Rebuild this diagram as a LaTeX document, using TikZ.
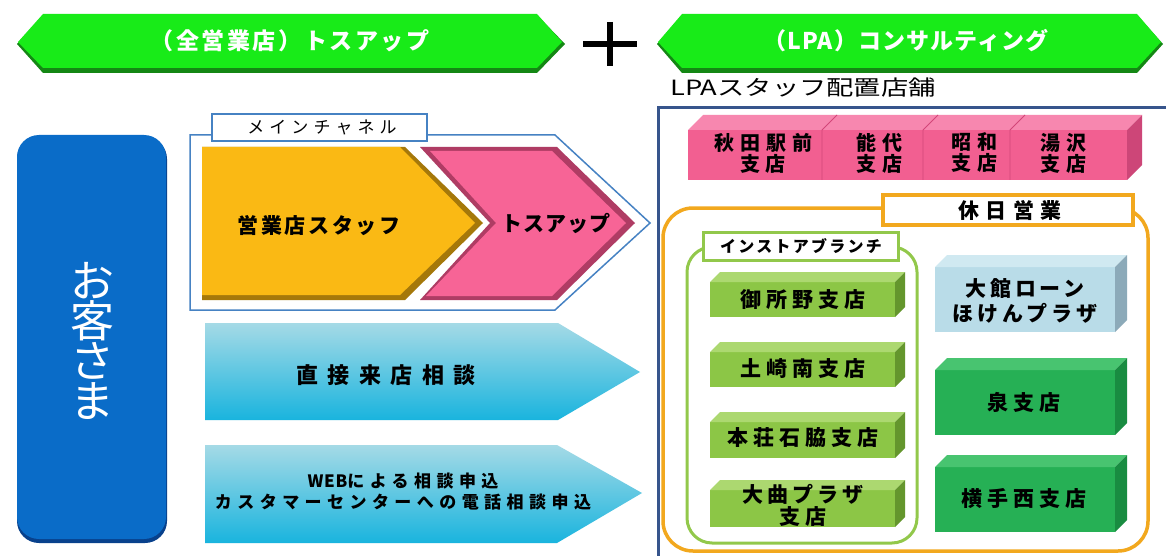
\documentclass[tikz,border=0pt]{standalone}
\usepackage{fontspec}
\setmainfont{Noto Sans CJK JP}
\newfontfamily\jp{Noto Sans CJK JP}
\newcommand\jfont[3]{\jp\fontsize{#1}{#2}\selectfont\addfontfeature{LetterSpace=#3}}
\newcommand\jbfont[3]{\jp\bfseries\fontsize{#1}{#2}\selectfont\addfontfeature{LetterSpace=#3}}
\definecolor{bannerG}{RGB}{24,235,24}
\definecolor{bannerD}{RGB}{20,135,20}
\definecolor{custB}{RGB}{10,108,200}
\definecolor{custBD}{RGB}{8,65,140}
\definecolor{frameB}{RGB}{70,130,195}
\definecolor{chevO}{RGB}{250,185,20}
\definecolor{chevOD}{RGB}{165,120,10}
\definecolor{chevP}{RGB}{247,100,150}
\definecolor{chevPD}{RGB}{175,60,100}
\definecolor{cyanT}{RGB}{165,218,230}
\definecolor{cyanM}{RGB}{55,200,232}
\definecolor{cyanB}{RGB}{25,180,222}
\definecolor{navyF}{RGB}{55,85,140}
\definecolor{pinkF}{RGB}{242,95,145}
\definecolor{pinkT}{RGB}{247,135,175}
\definecolor{pinkS}{RGB}{205,70,120}
\definecolor{pinkL}{RGB}{210,70,120}
\definecolor{orF}{RGB}{242,168,30}
\definecolor{lgF}{RGB}{146,200,75}
\definecolor{lgB}{RGB}{140,198,70}
\definecolor{lgT}{RGB}{172,216,112}
\definecolor{lgS}{RGB}{100,150,45}
\definecolor{lbB}{RGB}{185,220,232}
\definecolor{lbT}{RGB}{208,233,241}
\definecolor{lbS}{RGB}{140,170,185}
\definecolor{dgB}{RGB}{38,176,85}
\definecolor{dgT}{RGB}{72,196,112}
\definecolor{dgS}{RGB}{25,140,65}
\newcommand\cubebox[8]{%
  \fill[#6] (#1,#2) rectangle (#3,#4);
  \fill[#7] (#1,#2) -- ({#1+#5},{#2-#5}) -- ({#3+#5},{#2-#5}) -- (#3,#2) -- cycle;
  \fill[#8] (#3,#2) -- ({#3+#5},{#2-#5}) -- ({#3+#5},{#4-#5}) -- (#3,#4) -- cycle;
}
\tikzset{
  txt/.style={inner sep=0pt, align=center, text=black},
  wtxt/.style={inner sep=0pt, align=center, text=white},
}
\begin{document}
\begin{tikzpicture}[x=1pt,y=-1pt]
\useasboundingbox (0,0) rectangle (1166,556);
\fill[white] (0,0) rectangle (1166,556);

% ---- top banners ----
\fill[bannerD] (17,44) -- (43,15) -- (537,15) -- (565,44) -- (537,73) -- (43,73) -- cycle;
\fill[bannerG] (18,42) -- (43,14) -- (537,14) -- (562,42) -- (537,68) -- (43,68) -- cycle;
\node[wtxt, font=\jbfont{23}{25}{11}] (banL) at (290,41) {（全営業店）トスアップ};

\draw[line width=6pt] (583,44) -- (637,44);
\draw[line width=6pt] (610,22) -- (610,66);

\fill[bannerD] (657,44) -- (682,15) -- (1137,15) -- (1163,44) -- (1137,73) -- (682,73) -- cycle;
\fill[bannerG] (658,42) -- (682,14) -- (1137,14) -- (1161,42) -- (1137,68) -- (682,68) -- cycle;
\node[wtxt, font=\jbfont{23}{25}{5}] (banR) at (906,41) {（LPA）コンサルティング};

\node[txt, anchor=west, font=\jfont{21}{23}{0}] (lpa) at (670,88) {\scalebox{1.3}[1]{LPAスタッフ配置店舗}};

% ---- customer box ----
\fill[custBD, rounded corners=22pt] (17,137) rectangle (167,543);
\fill[custB, rounded corners=22pt] (17,135) rectangle (166,539);
\node[wtxt, font=\jfont{44}{40}{0}] (cust) at (92,341) {お\\客\\さ\\ま};

% ---- main channel frame ----
\draw[frameB, line width=1.5pt, fill=white] (190,135) -- (555,135) -- (650,223) -- (555,310) -- (190,310) -- cycle;
\draw[frameB, line width=1.5pt, fill=white] (212,114) rectangle (427,141);
\node[txt, font=\jfont{17}{19}{30}] (mainlbl) at (322,127) {メインチャネル};

\fill[chevOD] (202,147) -- (405,147) -- (483,223) -- (405,300) -- (202,300) -- cycle;
\fill[chevO] (202,147) -- (400,147) -- (475,223) -- (400,295) -- (202,295) -- cycle;
\node[txt, font=\jbfont{21}{23}{12}] (staff) at (319,226) {営業店スタッフ};

\fill[chevPD] (420,147) -- (557,147) -- (635,223) -- (557,300) -- (420,300) -- (490,223) -- cycle;
\fill[chevP] (430,151) -- (552,151) -- (626,223) -- (552,296) -- (426,296) -- (496,223) -- cycle;
\node[txt, font=\jbfont{21}{23}{5}] (toss) at (556,223) {トスアップ};

% ---- cyan arrows ----
\shade[top color=cyanT, middle color=cyanM, bottom color=cyanB] (205,323) -- (558,323) -- (640,372) -- (558,420) -- (205,420) -- cycle;
\node[txt, font=\jbfont{22}{24}{43}] (visit) at (386,375) {直接来店相談};

\shade[top color=cyanT, middle color=cyanM, bottom color=cyanB] (205,445) -- (557,445) -- (642,493) -- (557,543) -- (205,543) -- cycle;
\node[txt, font=\jbfont{17}{21}{32}] (web) at (403,492) {{\addfontfeature{LetterSpace=4}WEB}による相談申込\\カスタマーセンターへの電話相談申込};

% ---- right area ----
\draw[navyF, line width=3pt] (658,556) -- (658,108) -- (1166,108);

% pink row
\cubebox{688}{130}{1127}{180}{15}{pinkF}{pinkT}{pinkS}
\draw[pinkL, line width=0.8pt] (822,130) -- (822,180) (822,130) -- (837,115);
\draw[pinkL, line width=0.8pt] (923,130) -- (923,180) (923,130) -- (938,115);
\draw[pinkL, line width=0.8pt] (1010,130) -- (1010,180) (1010,130) -- (1025,115);
\node[txt, font=\jbfont{20}{21}{30}] (akita) at (763,153) {秋田駅前\\支店};
\node[txt, font=\jbfont{20}{21}{30}] (noshiro) at (879,153) {能代\\支店};
\node[txt, font=\jbfont{20}{21}{30}] (showa) at (974,153) {昭和\\支店};
\node[txt, font=\jbfont{20}{21}{30}] (yuzawa) at (1063,153) {湯沢\\支店};

% holiday frame
\draw[orF, line width=3.5pt, rounded corners=30pt] (663,208) rectangle (1148,551);
\draw[orF, line width=4pt, fill=white] (883,195) rectangle (1133,225);
\node[txt, font=\jbfont{21}{23}{29}] (holiday) at (1010,210) {休日営業};

% in-store frame
\draw[lgF, line width=3pt, rounded corners=25pt] (687,247) rectangle (917,543);
\draw[lgF, line width=3pt, fill=white] (703,232) rectangle (898,260);
\node[txt, font=\jbfont{16}{18}{14}] (instore) at (801,246) {インストアブランチ};

% light green boxes
\cubebox{710}{282}{895}{317}{10}{lgB}{lgT}{lgS}
\node[txt, font=\jbfont{21}{23}{24}] (goshono) at (803,300) {御所野支店};
\cubebox{710}{352}{895}{387}{10}{lgB}{lgT}{lgS}
\node[txt, font=\jbfont{21}{23}{24}] (tsuchizaki) at (803,369) {土崎南支店};
\cubebox{710}{422}{895}{458}{10}{lgB}{lgT}{lgS}
\node[txt, font=\jbfont{21}{23}{24}] (honjo) at (803,438) {本荘石脇支店};
\cubebox{710}{490}{895}{527}{10}{lgB}{lgT}{lgS}
\node[txt, font=\jbfont{21}{22}{20}] (omagari) at (803,505) {大曲プラザ\\支店};

% right column boxes
\cubebox{935}{267}{1115}{332}{12}{lbB}{lbT}{lbS}
\node[txt, font=\jbfont{21}{25}{18}] (odate) at (1025,301) {大館ローン\\ほけんプラザ};
\cubebox{935}{370}{1115}{435}{12}{dgB}{dgT}{dgS}
\node[txt, font=\jbfont{21}{23}{26}] (izumi) at (1024,402) {泉支店};
\cubebox{935}{467}{1115}{532}{12}{dgB}{dgT}{dgS}
\node[txt, font=\jbfont{21}{23}{24}] (yokote) at (1024,499) {横手西支店};
\end{tikzpicture}
\end{document}
